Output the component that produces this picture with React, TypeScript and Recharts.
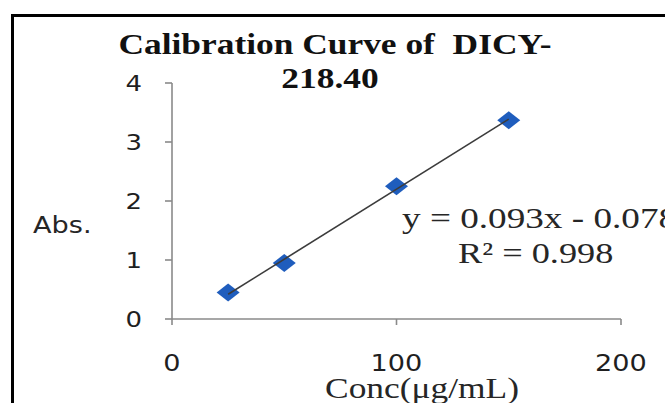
import React from "react";
import { ScatterChart, Scatter, XAxis, YAxis } from "recharts";

// Calibration data: concentration (µg/mL) vs absorbance
const concentrations = [25, 50, 100, 150];
const absorbances = [0.45, 0.95, 2.25, 3.37];

const xTicks = [0, 100, 200];
const yTicks = [0, 1, 2, 3, 4];

const titleLines = ["Calibration Curve of  DICY-", "218.40"];
const equationText = "y = 0.093x - 0.078";
const r2Text = "R\u00B2 = 0.998";
const xAxisTitle = "Conc(\u03BCg/mL)";
const yAxisTitle = "Abs.";

const W = 665;
const H = 403;
const SX = 1.18; // horizontal text stretch
const AXIS_GRAY = "#8a8a8a";
const MARKER_BLUE = "#1f5dbd";
const SERIF = "'Liberation Serif', 'Times New Roman', serif";
const SANS = "'DejaVu Sans', Verdana, sans-serif";

const points = concentrations.map((c, i) => ({ x: c, y: absorbances[i] }));

// least-squares linear trendline through the calibration points
const n = points.length;
const meanX = concentrations.reduce((a, b) => a + b, 0) / n;
const meanY = absorbances.reduce((a, b) => a + b, 0) / n;
let sxy = 0;
let sxx = 0;
points.forEach((p) => {
  sxy += (p.x - meanX) * (p.y - meanY);
  sxx += (p.x - meanX) * (p.x - meanX);
});
const slope = sxy / sxx;
const intercept = meanY - slope * meanX;
const xMin = Math.min(...concentrations);
const xMax = Math.max(...concentrations);
const trend = [
  { x: xMin, y: slope * xMin + intercept },
  { x: xMax, y: slope * xMax + intercept },
];

type STProps = {
  x: number;
  y: number;
  anchor?: "start" | "middle" | "end";
  size: number;
  family: string;
  weight?: string | number;
  fill?: string;
  sx?: number;
  children: React.ReactNode;
};

const StretchText = ({
  x,
  y,
  anchor = "start",
  size,
  family,
  weight = "normal",
  fill = "#222",
  sx = SX,
  children,
}: STProps) => (
  <text
    x={x}
    y={y}
    textAnchor={anchor}
    fontSize={size}
    fontFamily={family}
    fontWeight={weight}
    fill={fill}
    style={{ whiteSpace: "pre" }}
    transform={`translate(${x} 0) scale(${sx} 1) translate(${-x} 0)`}
  >
    {children}
  </text>
);

const YTick = (props: any) => {
  const { x, y, payload } = props;
  return (
    <StretchText x={x} y={y + 0.36 * 22} anchor="end" size={22} family={SANS} fill="#1f1f1f">
      {payload.value}
    </StretchText>
  );
};

const XTick = (props: any) => {
  const { x, y, payload } = props;
  return (
    <StretchText x={x} y={y + 0.73 * 23} anchor="middle" size={23} family={SANS} fill="#1f1f1f">
      {payload.value}
    </StretchText>
  );
};

const Diamond = (props: any) => {
  const { cx, cy } = props;
  const hw = 11.5;
  const hh = 9;
  return (
    <polygon
      points={`${cx - hw},${cy} ${cx},${cy - hh} ${cx + hw},${cy} ${cx},${cy + hh}`}
      fill={MARKER_BLUE}
    />
  );
};

const NoShape = () => <g />;

export default function App() {
  return (
    <div
      style={{
        position: "absolute",
        left: 0,
        top: 0,
        width: W,
        height: H,
        overflow: "hidden",
        background: "#fff",
      }}
    >
      <ScatterChart width={W} height={H} margin={{ top: 83, right: 44, bottom: 44, left: 112 }}>
        <XAxis
          type="number"
          dataKey="x"
          domain={[0, 200]}
          ticks={xTicks}
          interval={0}
          height={40}
          tickSize={6}
          tickMargin={29}
          axisLine={{ stroke: AXIS_GRAY, strokeWidth: 1.6 }}
          tickLine={{ stroke: AXIS_GRAY, strokeWidth: 1.6 }}
          tick={<XTick />}
        />
        <YAxis
          type="number"
          dataKey="y"
          domain={[0, 4]}
          ticks={yTicks}
          interval={0}
          width={60}
          tickSize={7}
          tickMargin={23}
          axisLine={{ stroke: AXIS_GRAY, strokeWidth: 1.6 }}
          tickLine={{ stroke: AXIS_GRAY, strokeWidth: 1.6 }}
          tick={<YTick />}
        />
        <Scatter data={points} shape={<Diamond />} isAnimationActive={false} />
        <Scatter
          data={trend}
          line={{ stroke: "#3c3c3c", strokeWidth: 1.6 }}
          shape={<NoShape />}
          isAnimationActive={false}
        />
      </ScatterChart>

      <svg
        width={W}
        height={H}
        style={{ position: "absolute", left: 0, top: 0, pointerEvents: "none" }}
      >
        {/* chart frame */}
        <line x1={12.5} y1={15.5} x2={W} y2={15.5} stroke="#000" strokeWidth={3} />
        <line x1={12.5} y1={14} x2={12.5} y2={H} stroke="#000" strokeWidth={3} />

        <StretchText x={335} y={54} anchor="middle" size={30} family={SERIF} weight="bold" fill="#111">
          {titleLines[0]}
        </StretchText>
        <StretchText x={330} y={88} anchor="middle" size={30} family={SERIF} weight="bold" fill="#111">
          {titleLines[1]}
        </StretchText>

        <StretchText x={33} y={233} size={23} family={SANS} fill="#262626">
          {yAxisTitle}
        </StretchText>

        <StretchText x={402} y={228} size={30} family={SERIF} fill="#262626" sx={1.24}>
          {equationText}
        </StretchText>
        <StretchText x={458} y={263} size={30} family={SERIF} fill="#262626" sx={1.21}>
          {r2Text}
        </StretchText>

        <StretchText x={422} y={398} anchor="middle" size={30} family={SERIF} fill="#262626">
          {xAxisTitle}
        </StretchText>
      </svg>
    </div>
  );
}
